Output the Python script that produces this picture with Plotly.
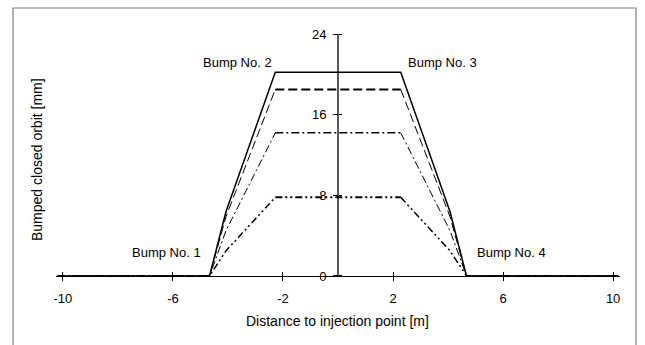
import plotly.graph_objects as go

# ---- data ----
x_pts = [-10.2, -4.67, -4.07, -2.28, 2.28, 4.07, 4.67, 10.2]
orbit_solid = [0, 0, 6.4, 20.2, 20.2, 6.4, 0, 0]
orbit_dash = [0, 0, 5.9, 18.5, 18.5, 5.9, 0, 0]
orbit_dashdot = [0, 0, 4.5, 14.2, 14.2, 4.5, 0, 0]
orbit_dashdotdot = [0, 0, 2.5, 7.8, 7.8, 2.5, 0, 0]

x_ticks = [-10, -6, -2, 2, 6, 10]
y_ticks = [0, 8, 16, 24]

bump_labels = ["Bump No. 1", "Bump No. 2", "Bump No. 3", "Bump No. 4"]
bump_label_x = [-6.22, -3.65, 3.81, 6.29]
bump_label_y = [2.3, 21.2, 21.2, 2.3]

x_title = "Distance to injection point [m]"
y_title = "Bumped closed orbit [mm]"

# ---- layout constants ----
W, H = 645, 345
ML, MR, MT, MB = 56, 25, 31, 66
XR = [-10.25, 10.25]
YR = [-0.3, 24.3]
FONT = "Liberation Sans, Arial, sans-serif"

fig = go.Figure()

styles = [
    (orbit_dashdotdot, "7px,3px,2px,3px,2px,3px", 1.5, 2.0),
    (orbit_dashdot, "8px,3px,2px,3px", 1.0, 1.6),
    (orbit_dash, "9px,4px", 1.0, 2.0),
]
for ys, dash, side_w, top_w in styles:
    for sl, w in ((slice(0, 4), side_w), (slice(3, 5), top_w), (slice(4, 8), side_w)):
        fig.add_trace(go.Scatter(x=x_pts[sl], y=ys[sl], mode="lines",
                                 line=dict(color="black", width=w, dash=dash),
                                 hoverinfo="skip", showlegend=False))

# solid curve on the overlay axes (so that the overlay tick axes are drawn)
fig.add_trace(go.Scatter(x=x_pts, y=orbit_solid, mode="lines",
                         line=dict(color="black", width=1.5),
                         xaxis="x2", yaxis="y2",
                         hoverinfo="skip", showlegend=False))

x_pos = (0 - YR[0]) / (YR[1] - YR[0])
y_pos = (0 - XR[0]) / (XR[1] - XR[0])

tickfont = dict(family=FONT, size=13, color="black")
fig.update_layout(
    width=W, height=H, autosize=False,
    margin=dict(l=ML, r=MR, t=MT, b=MB, pad=0),
    paper_bgcolor="white", plot_bgcolor="white",
    font=dict(family=FONT, size=13, color="black"),
    showlegend=False,
    xaxis=dict(range=XR, anchor="free", position=x_pos, showgrid=False, zeroline=False,
               showline=True, linecolor="black", linewidth=1.2,
               tickmode="array", tickvals=x_ticks, ticktext=[str(v) for v in x_ticks],
               ticks="outside", ticklen=4, tickwidth=1, tickcolor="black",
               tickfont=tickfont, ticklabelstandoff=6),
    xaxis2=dict(range=XR, overlaying="x", anchor="free", position=x_pos,
                showgrid=False, zeroline=False, showline=False,
                tickmode="array", tickvals=x_ticks, showticklabels=False,
                ticks="inside", ticklen=4, tickwidth=1, tickcolor="black"),
    yaxis=dict(range=YR, anchor="free", position=y_pos, showgrid=False, zeroline=False,
               showline=False,
               tickmode="array", tickvals=y_ticks, ticktext=[str(v) for v in y_ticks],
               ticks="outside", ticklen=5, tickwidth=1, tickcolor="black",
               tickfont=tickfont, ticklabelstandoff=4),
    yaxis2=dict(range=YR, overlaying="y", anchor="free", position=y_pos,
                showgrid=False, zeroline=False, showline=False,
                tickmode="array", tickvals=y_ticks, showticklabels=False,
                ticks="inside", ticklen=3, tickwidth=1, tickcolor="black"),
)

# vertical axis line through x = 0 (from 0 to top tick)
fig.add_shape(type="line", xref="x", yref="y", x0=0, x1=0, y0=0, y1=y_ticks[-1],
              line=dict(color="black", width=1.3))

# outer frame
def px_to_paper_x(px):
    return (px - ML) / (W - ML - MR)

def px_to_paper_y(py):
    return (H - MB - py) / (H - MT - MB)

fig.add_shape(type="rect", xref="paper", yref="paper",
              x0=px_to_paper_x(13), x1=px_to_paper_x(636),
              y0=px_to_paper_y(352), y1=px_to_paper_y(8),
              line=dict(color="#7f7f7f", width=1.2), fillcolor="rgba(0,0,0,0)")

for t, bx, by in zip(bump_labels, bump_label_x, bump_label_y):
    fig.add_annotation(x=bx, y=by, xref="x", yref="y", text=t, showarrow=False,
                       font=dict(family=FONT, size=13, color="black"),
                       xanchor="center", yanchor="middle")

fig.add_annotation(x=px_to_paper_x(337.5), y=px_to_paper_y(321), xref="paper", yref="paper",
                   text=x_title, showarrow=False, xanchor="center", yanchor="middle",
                   font=dict(family=FONT, size=14, color="black"))
fig.add_annotation(x=px_to_paper_x(37), y=px_to_paper_y(160), xref="paper", yref="paper",
                   text=y_title, showarrow=False, textangle=-90,
                   xanchor="center", yanchor="middle",
                   font=dict(family=FONT, size=14, color="black"))

fig.write_html("out.html")
